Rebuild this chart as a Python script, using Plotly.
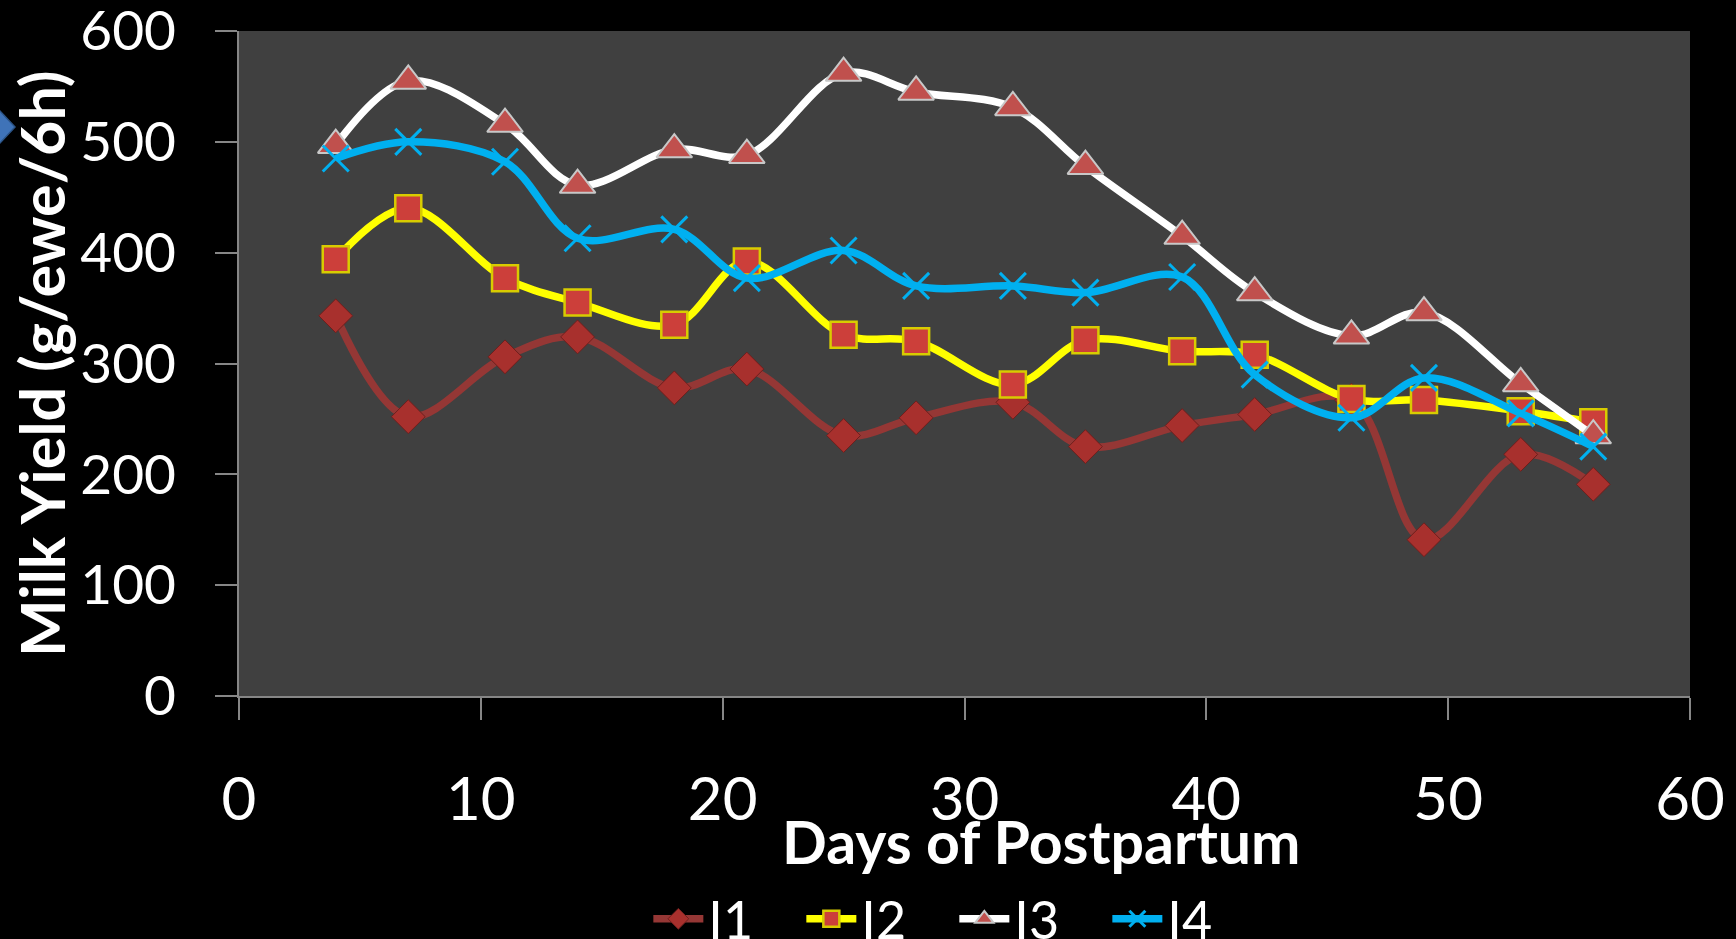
"""Milk yield over days of postpartum, four groups."""

import plotly.graph_objects as go

days = [4, 7, 11, 14, 18, 21, 25, 28, 32, 35, 39, 42, 46, 49, 53, 56]

i1 = [343, 252, 306, 324, 278, 295, 235, 251, 265, 225, 244, 254, 267, 141, 218, 191]
i2 = [394, 440, 377, 355, 335, 392, 326, 320, 281, 321, 311, 308, 268, 267, 257, 247]
i3 = [497, 555, 516, 461, 493, 488, 562, 545, 531, 478, 415, 364, 325, 346, 282, 235]
i4 = [485, 500, 482, 413, 421, 377, 402, 370, 370, 364, 378, 290, 251, 287, 255, 225]

x_ticks = [0, 10, 20, 30, 40, 50, 60]
y_ticks = [0, 100, 200, 300, 400, 500, 600]

FONT = "Lato"

series = [
    ("I1", i1, "#953735", dict(symbol="diamond", size=26, color="#A8302D",
                                line=dict(color="#6E1F1D", width=1))),
    ("I2", i2, "#FFFF00", dict(symbol="square", size=26, color="#CC3F3A",
                                line=dict(color="#D8CC00", width=2.5))),
    ("I3", i3, "#FFFFFF", dict(symbol="triangle-up", size=31, color="#C0504D",
                                line=dict(color="#C8C8C8", width=2))),
    ("I4", i4, "#00B0F0", dict(symbol="x-thin", size=26,
                                line=dict(color="#00B0F0", width=3))),
]

fig = go.Figure()

for name, vals, col, marker in series:
    fig.add_trace(go.Scatter(
        x=days,
        y=vals,
        name=name,
        mode="lines+markers",
        line=dict(color=col, width=7.5, shape="spline", smoothing=1),
        marker=marker,
    ))

W, H = 1736, 939
L, R, T, B = 239, 46, 31, 243
pw, ph = W - L - R, H - T - B


def px(x):
    return (x - L) / pw


def py(y):
    return (H - B - y) / ph


# blue chevron cut off at the left edge
arrow = "M {} {} L {} {} L {} {} L {} {} Z".format(
    px(-16), py(127), px(0), py(111), px(15), py(127), px(0), py(143))

fig.update_layout(
    width=W,
    height=H,
    margin=dict(l=L, r=R, t=T, b=B, autoexpand=False),
    paper_bgcolor="#000000",
    plot_bgcolor="#404040",
    font=dict(family=FONT, color="white"),
    showlegend=True,
    legend=dict(
        orientation="h",
        x=0.493,
        xanchor="center",
        y=py(919),
        yanchor="middle",
        font=dict(size=52, color="white", family=FONT),
        itemwidth=50,
        entrywidth=88,
        bgcolor="rgba(0,0,0,0)",
    ),
    xaxis=dict(
        range=[0, 60],
        tickvals=x_ticks,
        showgrid=False,
        zeroline=False,
        showline=True,
        linecolor="#868686",
        linewidth=2,
        ticks="outside",
        ticklen=22,
        tickwidth=2,
        tickcolor="#868686",
        tickfont=dict(size=60, color="white", family=FONT),
        ticklabelstandoff=28,
        ticklabeloverflow="allow",
    ),
    yaxis=dict(
        range=[0, 600],
        tickvals=y_ticks,
        showgrid=False,
        zeroline=False,
        showline=True,
        linecolor="#868686",
        linewidth=2,
        ticks="outside",
        ticklen=22,
        tickwidth=2,
        tickcolor="#868686",
        tickfont=dict(size=55, color="white", family=FONT),
        ticklabelstandoff=28,
        ticklabeloverflow="allow",
    ),
    annotations=[
        dict(text="<b>Days of Postpartum</b>", xref="paper", yref="paper",
             x=px(1041), y=py(841), xanchor="center", yanchor="middle",
             showarrow=False, font=dict(size=59, color="white", family=FONT)),
        dict(text="<b>Milk Yield (g/ewe/6h)</b>", xref="paper", yref="paper",
             x=px(42), y=py(363), xanchor="center", yanchor="middle",
             textangle=-90, showarrow=False,
             font=dict(size=61, color="white", family=FONT)),
    ],
    shapes=[
        dict(type="path", path=arrow, xref="paper", yref="paper",
             fillcolor="#3F73B8", line=dict(color="#2B5386", width=1.5)),
    ],
)

# page default body margin would push the figure 8px right/down
fig.write_html(
    "out.html",
    config={"displayModeBar": False},
    post_script="document.body.style.margin='0';"
                "document.body.style.background='#000';"
                "document.body.style.overflow='hidden';",
)
